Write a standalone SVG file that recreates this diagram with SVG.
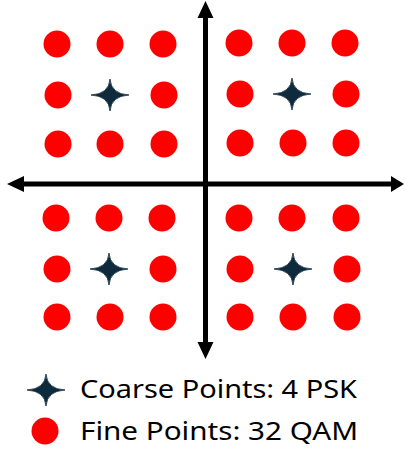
<svg xmlns="http://www.w3.org/2000/svg" width="405" height="449" viewBox="0 0 405 449">
<style>
.pt{fill:#ff0000}
.ax{stroke:#000;stroke-width:5;fill:none}
.ah{fill:#000}
.lbl{font-family:"Noto Sans","Liberation Sans",sans-serif;font-size:25.5px;fill:#000}
</style>
<defs>
<path id="star" d="M0,-16 Q1,-1 19,0 Q1,1 0,16 Q-1,1 -19,0 Q-1,-1 0,-16 Z" fill="#0e2a3c" stroke="#0e2a3c" stroke-width="0.8" stroke-linejoin="round"/>
<circle id="dot" r="13.5" class="pt"/>
</defs>
<g id="connectors">
<line class="ax" x1="205.5" y1="15" x2="205.5" y2="345"/>
<polygon class="ah" points="205.5,1 213.5,18 197.5,18"/>
<polygon class="ah" points="205.5,359 213.5,342 197.5,342"/>
<line class="ax" x1="22" y1="184" x2="392" y2="184"/>
<polygon class="ah" points="7,184 24,176 24,192"/>
<polygon class="ah" points="404,184 391,176 391,192"/>
</g>
<g id="q1-fine">
<use href="#dot" x="57" y="44"/><use href="#dot" x="110" y="44"/><use href="#dot" x="163" y="44"/>
<use href="#dot" x="58" y="95"/><use href="#dot" x="164" y="95"/>
<use href="#dot" x="58" y="144"/><use href="#dot" x="110" y="144"/><use href="#dot" x="164" y="144"/>
</g>
<g id="q2-fine">
<use href="#dot" x="239" y="43"/><use href="#dot" x="292" y="43"/><use href="#dot" x="345" y="43"/>
<use href="#dot" x="240" y="94"/><use href="#dot" x="346" y="94"/>
<use href="#dot" x="240" y="143"/><use href="#dot" x="293" y="143"/><use href="#dot" x="346" y="143"/>
</g>
<g id="q3-fine">
<use href="#dot" x="56" y="218"/><use href="#dot" x="109" y="218"/><use href="#dot" x="162" y="218"/>
<use href="#dot" x="57" y="269"/><use href="#dot" x="163" y="269"/>
<use href="#dot" x="57" y="317"/><use href="#dot" x="110" y="317"/><use href="#dot" x="163" y="317"/>
</g>
<g id="q4-fine">
<use href="#dot" x="239" y="218"/><use href="#dot" x="292" y="218"/><use href="#dot" x="346" y="218"/>
<use href="#dot" x="240" y="269"/><use href="#dot" x="347" y="269"/>
<use href="#dot" x="240" y="317"/><use href="#dot" x="293" y="317"/><use href="#dot" x="347" y="317"/>
</g>
<g id="coarse">
<use href="#star" x="110" y="95"/>
<use href="#star" x="292" y="94"/>
<use href="#star" x="109" y="269"/>
<use href="#star" x="293" y="269"/>
</g>
<g id="legend-coarse">
<use href="#star" x="46" y="390"/>
<text class="lbl" x="80" y="398" textLength="277" lengthAdjust="spacingAndGlyphs">Coarse Points: 4 PSK</text>
</g>
<g id="legend-fine">
<use href="#dot" x="45" y="431"/>
<text class="lbl" x="80" y="440" textLength="278" lengthAdjust="spacingAndGlyphs">Fine Points: 32 QAM</text>
</g>
</svg>
